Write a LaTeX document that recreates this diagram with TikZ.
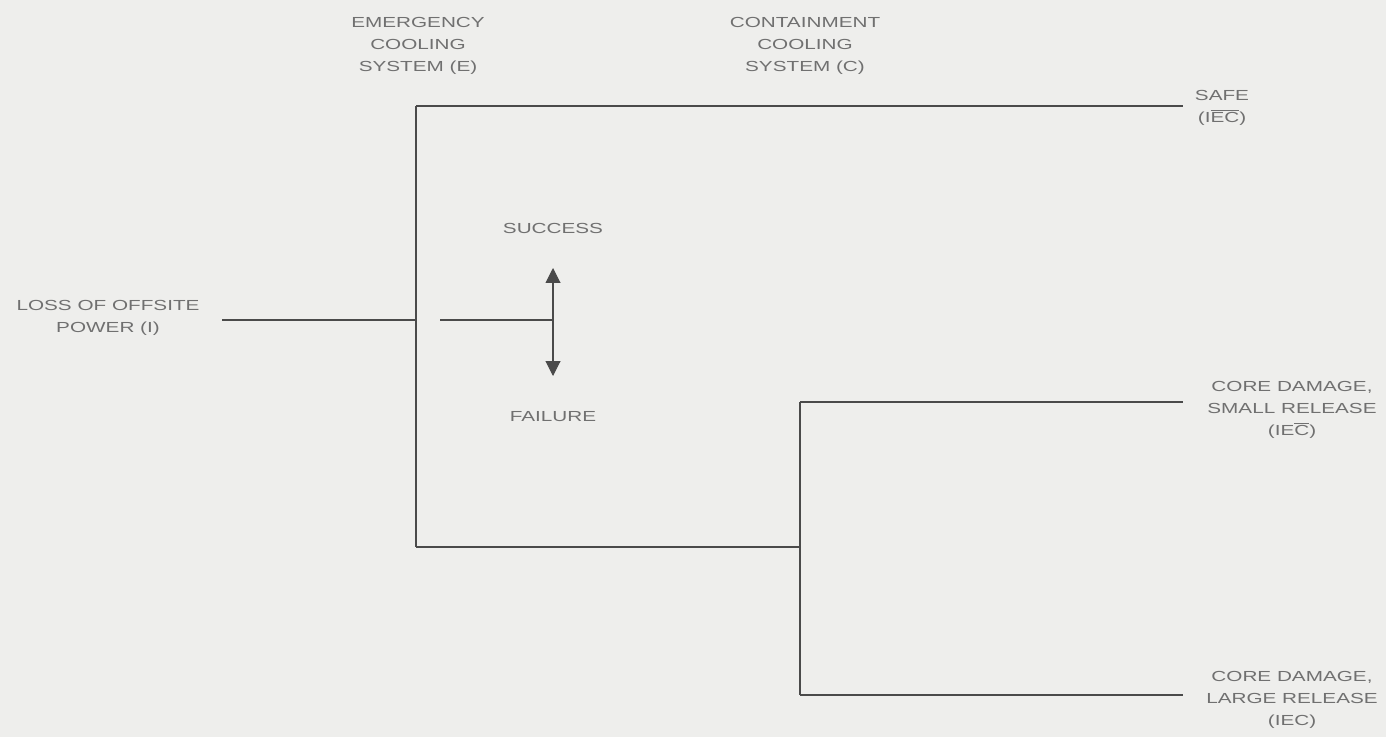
\documentclass[tikz,border=0pt]{standalone}
\usepackage{fontspec}
\setmainfont{Liberation Sans}
\newfontfamily\tagfont[FakeStretch=1.42]{Liberation Sans}
\usepackage{xcolor}
\usetikzlibrary{arrows.meta, positioning}

\definecolor{paper}{HTML}{EEEEEC}
\definecolor{ink}{HTML}{4A4A4A}
\definecolor{lbl}{HTML}{707070}

\newcommand{\ovl}[1]{$\overline{\hbox{#1}}$}

\begin{document}
\begin{tikzpicture}[x=0.02cm, y=-0.02cm,
    branch/.style={draw=ink, line width=0.6pt},
    tag/.style={text=lbl, align=center, font=\tagfont\fontsize{8.3}{12.6}\selectfont, inner sep=0pt},
    >={Triangle[length=8.5pt, width=8.5pt]}]

    % =================================================================
    % Nền và khung
    % =================================================================
    \fill[paper] (0,0) rectangle (1386,737);
    \useasboundingbox (0,0) rectangle (1386,737);

    % Tiêu đề các cột
    \node[tag] (hE) at (418,46) {EMERGENCY\\COOLING\\SYSTEM (E)};
    \node[tag] (hC) at (805,46) {CONTAINMENT\\COOLING\\SYSTEM (C)};

    % Sự kiện khởi đầu
    \node[tag] (init) at (108,318) {LOSS OF OFFSITE\\POWER (I)};

    % Các điểm rẽ nhánh
    \coordinate (i0) at (222,320);
    \coordinate (e0) at (416,320);
    \coordinate (eS) at (416,106);
    \coordinate (eF) at (416,547);
    \coordinate (c0) at (800,547);
    \coordinate (cS) at (800,402);
    \coordinate (cF) at (800,695);
    \coordinate (o1) at (1183,106);
    \coordinate (o2) at (1183,402);
    \coordinate (o3) at (1183,695);

    % Cây sự kiện
    \draw[branch] (i0) -- (e0);
    \draw[branch] (eS) -- (eF);
    \draw[branch] (eS) -- (o1);
    \draw[branch] (eF) -- (c0);
    \draw[branch] (cS) -- (cF);
    \draw[branch] (cS) -- (o2);
    \draw[branch] (cF) -- (o3);

    % Kết quả
    \node[tag] (safe)  at (1222,108) {SAFE\\(I\ovl{E}\ovl{C})};
    \node[tag] (small) at (1292,410) {CORE DAMAGE,\\SMALL RELEASE\\(IE\ovl{C})};
    \node[tag] (large) at (1292,700) {CORE DAMAGE,\\LARGE RELEASE\\(IEC)};

    % =================================================================
    % Chú giải thành công / thất bại
    % =================================================================
    \coordinate (k0) at (440,320);
    \coordinate (k1) at (553,320);
    \coordinate (kU) at (553,268);
    \coordinate (kD) at (553,376);
    \draw[branch] (k0) -- (k1);
    \draw[branch, ->, fill=ink] (k1) -- (kU);
    \draw[branch, ->, fill=ink] (k1) -- (kD);
    \node[tag] (succ) at (553,228) {SUCCESS};
    \node[tag] (fail) at (553,417) {FAILURE};

\end{tikzpicture}
\end{document}
